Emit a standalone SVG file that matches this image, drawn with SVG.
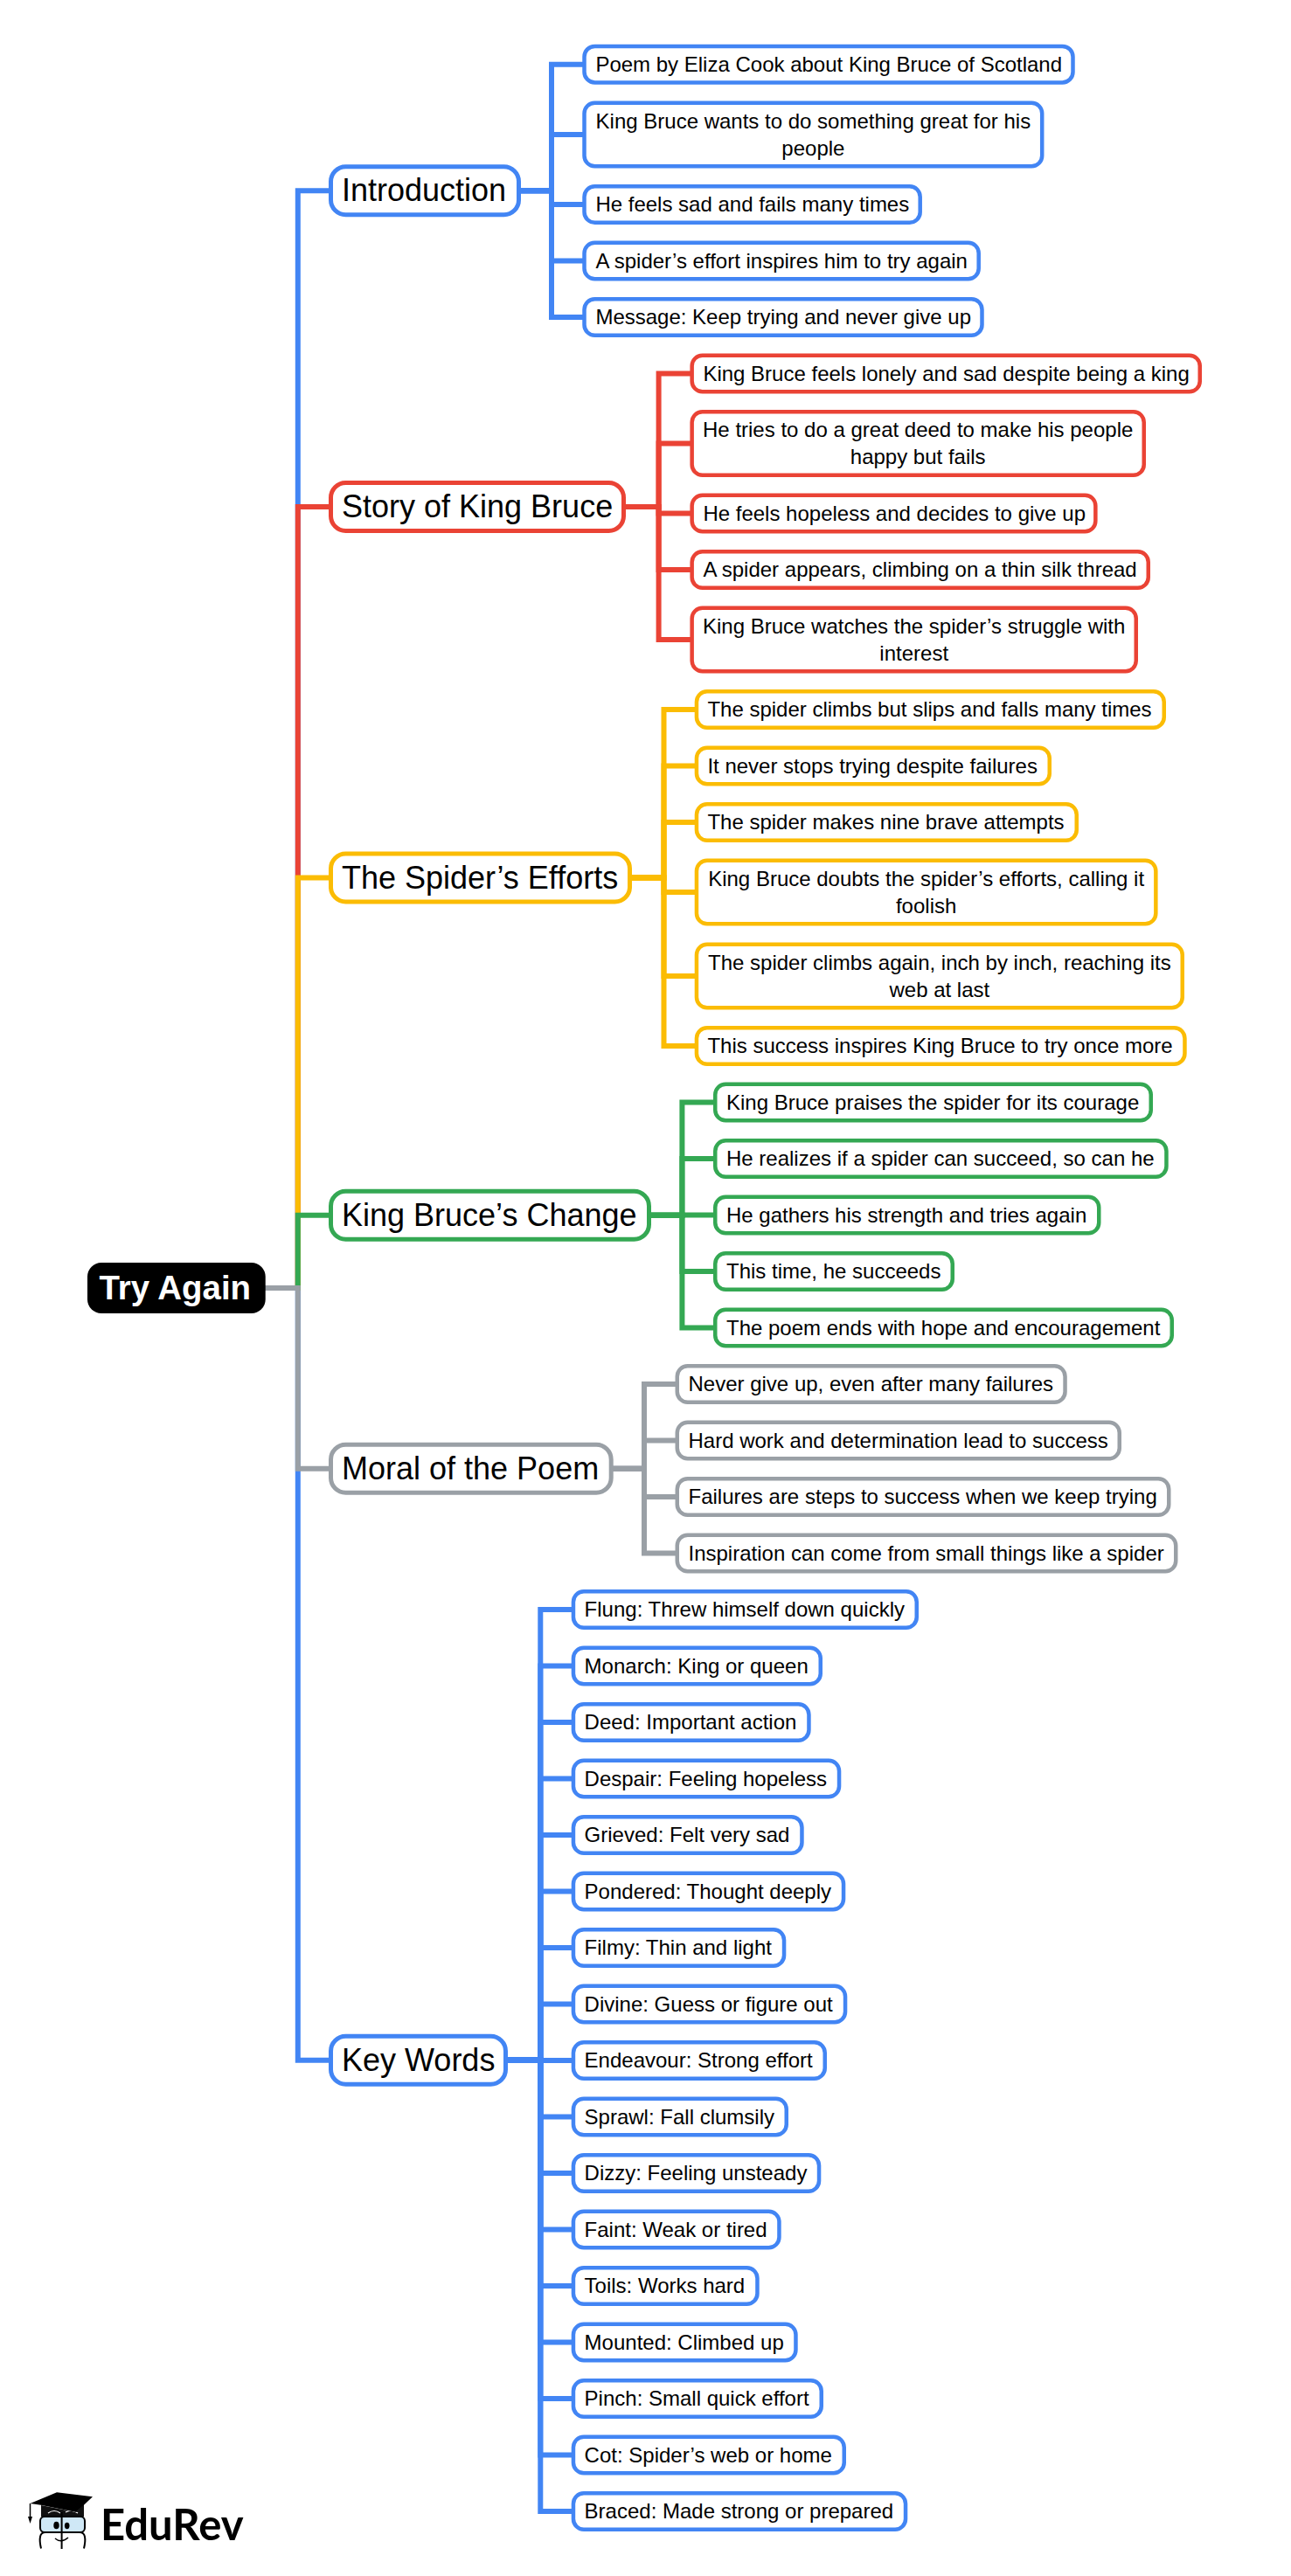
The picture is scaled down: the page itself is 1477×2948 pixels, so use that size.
<svg xmlns="http://www.w3.org/2000/svg" width="1477" height="2948" viewBox="0 0 1477 2948">
<style>
text{font-family:"Liberation Sans",Arial,sans-serif;fill:#000}
.c{fill:#fff;stroke-width:4.5}
.b{fill:#fff;stroke-width:5}
.ct{font-size:24px}
.bt{font-size:36px}
.m{text-anchor:middle}
.blue{stroke:#4285f4}.red{stroke:#ea4335}.yel{stroke:#fbbc04}.grn{stroke:#34a853}.gry{stroke:#9aa0a6}
#connectors path{fill:none;stroke-width:6;stroke-linejoin:miter}
</style>
<rect width="1477" height="2948" fill="#fff"/>
<g id="connectors">
<path class="blue" d="M303 1474H340.8V2357.7H378"/>
<path class="blue" d="M303 1474H340.8V218.3H378"/>
<path class="red" d="M303 1474H340.8V580H378"/>
<path class="yel" d="M303 1474H340.8V1004.5H378"/>
<path class="grn" d="M303 1474H340.8V1390.7H378"/>
<path class="gry" d="M303 1474H340.8V1680.7H378"/>
<g class="blue">
<path d="M594 218.3H631V73.7H668"/><path d="M594 218.3H631V154H668"/><path d="M594 218.3H631V234H668"/><path d="M594 218.3H631V298.5H668"/><path d="M594 218.3H631V363H668"/>
</g>
<g class="red">
<path d="M714 580H753.6V427.5H791"/><path d="M714 580H753.6V507.5H791"/><path d="M714 580H753.6V587.5H791"/><path d="M714 580H753.6V652H791"/><path d="M714 580H753.6V732H791"/>
</g>
<g class="yel">
<path d="M721 1004.5H759.5V812H796"/><path d="M721 1004.5H759.5V876.5H796"/><path d="M721 1004.5H759.5V941H796"/><path d="M721 1004.5H759.5V1021H796"/><path d="M721 1004.5H759.5V1117H796"/><path d="M721 1004.5H759.5V1197H796"/>
</g>
<g class="grn">
<path d="M743 1390.7H780.4V1261.5H818"/><path d="M743 1390.7H780.4V1326H818"/><path d="M743 1390.7H780.4V1390.5H818"/><path d="M743 1390.7H780.4V1455H818"/><path d="M743 1390.7H780.4V1519.5H818"/>
</g>
<g class="gry">
<path d="M700 1680.7H737V1584H774"/><path d="M700 1680.7H737V1648.5H774"/><path d="M700 1680.7H737V1713H774"/><path d="M700 1680.7H737V1777.5H774"/>
</g>
<g class="blue">
<path d="M579 2357.7H618.3V1842H655"/><path d="M579 2357.7H618.3V1906.5H655"/><path d="M579 2357.7H618.3V1971H655"/><path d="M579 2357.7H618.3V2035.5H655"/><path d="M579 2357.7H618.3V2100H655"/><path d="M579 2357.7H618.3V2164.5H655"/><path d="M579 2357.7H618.3V2229H655"/><path d="M579 2357.7H618.3V2293.5H655"/><path d="M579 2357.7H618.3V2358H655"/><path d="M579 2357.7H618.3V2422.5H655"/><path d="M579 2357.7H618.3V2487H655"/><path d="M579 2357.7H618.3V2551.5H655"/><path d="M579 2357.7H618.3V2616H655"/><path d="M579 2357.7H618.3V2680.5H655"/><path d="M579 2357.7H618.3V2745H655"/><path d="M579 2357.7H618.3V2809.5H655"/><path d="M579 2357.7H618.3V2874H655"/>
</g>
</g>
<g id="root"><rect x="100" y="1445" width="203.7" height="58" rx="16" fill="#000"/><text x="113.5" y="1487" font-size="38.4" font-weight="700" style="fill:#fff">Try Again</text></g>

<g id="introduction"><rect class="b blue" x="378.5" y="190.8" width="215" height="55" rx="17"/><text class="bt" x="391" y="230.3">Introduction</text></g>
<g id="story"><rect class="b red" x="378.5" y="552.5" width="335" height="55" rx="17"/><text class="bt" x="391" y="592">Story of King Bruce</text></g>
<g id="efforts"><rect class="b yel" x="378.5" y="977" width="342" height="55" rx="17"/><text class="bt" x="391" y="1016.5">The Spider’s Efforts</text></g>
<g id="change"><rect class="b grn" x="378.5" y="1363.2" width="364" height="55" rx="17"/><text class="bt" x="391" y="1402.7">King Bruce’s Change</text></g>
<g id="moral"><rect class="b gry" x="378.5" y="1653.2" width="320.7" height="55" rx="17"/><text class="bt" x="391" y="1692.7">Moral of the Poem</text></g>
<g id="keywords"><rect class="b blue" x="378.5" y="2330.2" width="200" height="55" rx="17"/><text class="bt" x="391" y="2369.7">Key Words</text></g>

<g id="i1"><rect class="c blue" x="668.5" y="52.95" width="559" height="41.5" rx="12"/><text class="ct" x="681.4" y="81.7">Poem by Eliza Cook about King Bruce of Scotland</text></g>
<g id="i2"><rect class="c blue" x="668.5" y="117.75" width="523.7" height="72.5" rx="12"/><text class="ct m" x="930.4" y="146.5">King Bruce wants to do something great for his</text><text class="ct m" x="930.4" y="177.5">people</text></g>
<g id="i3"><rect class="c blue" x="668.5" y="213.25" width="384.2" height="41.5" rx="12"/><text class="ct" x="681.4" y="242">He feels sad and fails many times</text></g>
<g id="i4"><rect class="c blue" x="668.5" y="277.75" width="451.2" height="41.5" rx="12"/><text class="ct" x="681.4" y="306.5">A spider’s effort inspires him to try again</text></g>
<g id="i5"><rect class="c blue" x="668.5" y="342.25" width="455" height="41.5" rx="12"/><text class="ct" x="681.4" y="371">Message: Keep trying and never give up</text></g>

<g id="s1"><rect class="c red" x="791.65" y="406.75" width="581.1" height="41.5" rx="12"/><text class="ct" x="804.4" y="435.5">King Bruce feels lonely and sad despite being a king</text></g>
<g id="s2"><rect class="c red" x="791.65" y="471.25" width="517.1" height="72.5" rx="12"/><text class="ct m" x="1050.2" y="500">He tries to do a great deed to make his people</text><text class="ct m" x="1050.2" y="531">happy but fails</text></g>
<g id="s3"><rect class="c red" x="791.65" y="566.75" width="461.7" height="41.5" rx="12"/><text class="ct" x="804.4" y="595.5">He feels hopeless and decides to give up</text></g>
<g id="s4"><rect class="c red" x="791.65" y="631.25" width="522.1" height="41.5" rx="12"/><text class="ct" x="804.4" y="660">A spider appears, climbing on a thin silk thread</text></g>
<g id="s5"><rect class="c red" x="791.65" y="695.75" width="508.1" height="72.5" rx="12"/><text class="ct m" x="1045.7" y="724.5">King Bruce watches the spider’s struggle with</text><text class="ct m" x="1045.7" y="755.5">interest</text></g>

<g id="e1"><rect class="c yel" x="796.95" y="791.25" width="534.8" height="41.5" rx="12"/><text class="ct" x="809.4" y="820">The spider climbs but slips and falls many times</text></g>
<g id="e2"><rect class="c yel" x="796.95" y="855.75" width="403.8" height="41.5" rx="12"/><text class="ct" x="809.4" y="884.5">It never stops trying despite failures</text></g>
<g id="e3"><rect class="c yel" x="796.95" y="920.25" width="434.8" height="41.5" rx="12"/><text class="ct" x="809.4" y="949">The spider makes nine brave attempts</text></g>
<g id="e4"><rect class="c yel" x="796.95" y="984.75" width="525.4" height="72.5" rx="12"/><text class="ct m" x="1059.65" y="1014">King Bruce doubts the spider’s efforts, calling it</text><text class="ct m" x="1059.65" y="1045">foolish</text></g>
<g id="e5"><rect class="c yel" x="796.95" y="1080.75" width="555.8" height="72.5" rx="12"/><text class="ct m" x="1074.85" y="1110">The spider climbs again, inch by inch, reaching its</text><text class="ct m" x="1074.85" y="1141">web at last</text></g>
<g id="e6"><rect class="c yel" x="796.95" y="1176.25" width="558.5" height="41.5" rx="12"/><text class="ct" x="809.4" y="1205">This success inspires King Bruce to try once more</text></g>

<g id="c1"><rect class="c grn" x="818.25" y="1240.75" width="498.5" height="41.5" rx="12"/><text class="ct" x="831" y="1269.5">King Bruce praises the spider for its courage</text></g>
<g id="c2"><rect class="c grn" x="818.25" y="1305.25" width="516.2" height="41.5" rx="12"/><text class="ct" x="831" y="1334">He realizes if a spider can succeed, so can he</text></g>
<g id="c3"><rect class="c grn" x="818.25" y="1369.75" width="439" height="41.5" rx="12"/><text class="ct" x="831" y="1398.5">He gathers his strength and tries again</text></g>
<g id="c4"><rect class="c grn" x="818.25" y="1434.25" width="271.5" height="41.5" rx="12"/><text class="ct" x="831" y="1463">This time, he succeeds</text></g>
<g id="c5"><rect class="c grn" x="818.25" y="1498.75" width="522.5" height="41.5" rx="12"/><text class="ct" x="831" y="1527.5">The poem ends with hope and encouragement</text></g>

<g id="m1"><rect class="c gry" x="774.75" y="1563.25" width="443.8" height="41.5" rx="12"/><text class="ct" x="787.5" y="1592">Never give up, even after many failures</text></g>
<g id="m2"><rect class="c gry" x="774.75" y="1627.75" width="506" height="41.5" rx="12"/><text class="ct" x="787.5" y="1656.5">Hard work and determination lead to success</text></g>
<g id="m3"><rect class="c gry" x="774.75" y="1692.25" width="562.5" height="41.5" rx="12"/><text class="ct" x="787.5" y="1721">Failures are steps to success when we keep trying</text></g>
<g id="m4"><rect class="c gry" x="774.75" y="1756.75" width="570.5" height="41.5" rx="12"/><text class="ct" x="787.5" y="1785.5">Inspiration can come from small things like a spider</text></g>

<g id="k1"><rect class="c blue" x="655.95" y="1821.25" width="392.8" height="41.5" rx="12"/><text class="ct" x="668.6" y="1850">Flung: Threw himself down quickly</text></g>
<g id="k2"><rect class="c blue" x="655.95" y="1885.75" width="282.8" height="41.5" rx="12"/><text class="ct" x="668.6" y="1914.5">Monarch: King or queen</text></g>
<g id="k3"><rect class="c blue" x="655.95" y="1950.25" width="269.5" height="41.5" rx="12"/><text class="ct" x="668.6" y="1979">Deed: Important action</text></g>
<g id="k4"><rect class="c blue" x="655.95" y="2014.75" width="304.1" height="41.5" rx="12"/><text class="ct" x="668.6" y="2043.5">Despair: Feeling hopeless</text></g>
<g id="k5"><rect class="c blue" x="655.95" y="2079.25" width="261.5" height="41.5" rx="12"/><text class="ct" x="668.6" y="2108">Grieved: Felt very sad</text></g>
<g id="k6"><rect class="c blue" x="655.95" y="2143.75" width="309.1" height="41.5" rx="12"/><text class="ct" x="668.6" y="2172.5">Pondered: Thought deeply</text></g>
<g id="k7"><rect class="c blue" x="655.95" y="2208.25" width="241.1" height="41.5" rx="12"/><text class="ct" x="668.6" y="2237">Filmy: Thin and light</text></g>
<g id="k8"><rect class="c blue" x="655.95" y="2272.75" width="311.1" height="41.5" rx="12"/><text class="ct" x="668.6" y="2301.5">Divine: Guess or figure out</text></g>
<g id="k9"><rect class="c blue" x="655.95" y="2337.25" width="287.8" height="41.5" rx="12"/><text class="ct" x="668.6" y="2366">Endeavour: Strong effort</text></g>
<g id="k10"><rect class="c blue" x="655.95" y="2401.75" width="243.8" height="41.5" rx="12"/><text class="ct" x="668.6" y="2430.5">Sprawl: Fall clumsily</text></g>
<g id="k11"><rect class="c blue" x="655.95" y="2466.25" width="281.1" height="41.5" rx="12"/><text class="ct" x="668.6" y="2495">Dizzy: Feeling unsteady</text></g>
<g id="k12"><rect class="c blue" x="655.95" y="2530.75" width="235.5" height="41.5" rx="12"/><text class="ct" x="668.6" y="2559.5">Faint: Weak or tired</text></g>
<g id="k13"><rect class="c blue" x="655.95" y="2595.25" width="210.5" height="41.5" rx="12"/><text class="ct" x="668.6" y="2624">Toils: Works hard</text></g>
<g id="k14"><rect class="c blue" x="655.95" y="2659.75" width="254.5" height="41.5" rx="12"/><text class="ct" x="668.6" y="2688.5">Mounted: Climbed up</text></g>
<g id="k15"><rect class="c blue" x="655.95" y="2724.25" width="283.8" height="41.5" rx="12"/><text class="ct" x="668.6" y="2753">Pinch: Small quick effort</text></g>
<g id="k16"><rect class="c blue" x="655.95" y="2788.75" width="309.8" height="41.5" rx="12"/><text class="ct" x="668.6" y="2817.5">Cot: Spider’s web or home</text></g>
<g id="k17"><rect class="c blue" x="655.95" y="2853.25" width="380.1" height="41.5" rx="12"/><text class="ct" x="668.6" y="2882">Braced: Made strong or prepared</text></g>

<g id="logo">
<path d="M47 2867V2880H96V2866L87 2875Z" fill="#111"/>
<path d="M55 2876Q62 2871 69 2876M75 2875Q82 2871 89 2876" fill="none" stroke="#fff" stroke-width="1.2"/>
<path d="M34.5 2865L65 2852.3L106 2857.3L87.3 2875L46.7 2866.7Z" fill="#000"/>
<path d="M34.5 2865V2880" fill="none" stroke="#000" stroke-width="1.5"/>
<path d="M32 2880H37L34.5 2888Z" fill="#000"/>
<rect x="46" y="2880" width="51" height="18" rx="5" fill="#cfe8f6" stroke="#000" stroke-width="2"/>
<path d="M47 2916.5Q45 2908 46 2903Q47 2898 52 2898H91Q96 2898 97 2903Q98 2908 96 2916.5" fill="none" stroke="#000" stroke-width="2"/>
<path d="M70.6 2875V2917" fill="none" stroke="#000" stroke-width="2"/>
<ellipse cx="64.5" cy="2890" rx="3.2" ry="4.3" fill="#000"/>
<ellipse cx="76.7" cy="2890.5" rx="2.8" ry="3.7" fill="#000"/>
<path d="M63 2905Q70 2911 78 2904" fill="none" stroke="#000" stroke-width="1.5"/>
<text x="115" y="2906.7" font-size="49" font-weight="700" style="font-family:Lato,'Liberation Sans',sans-serif">EduRev</text>
</g>
</svg>
